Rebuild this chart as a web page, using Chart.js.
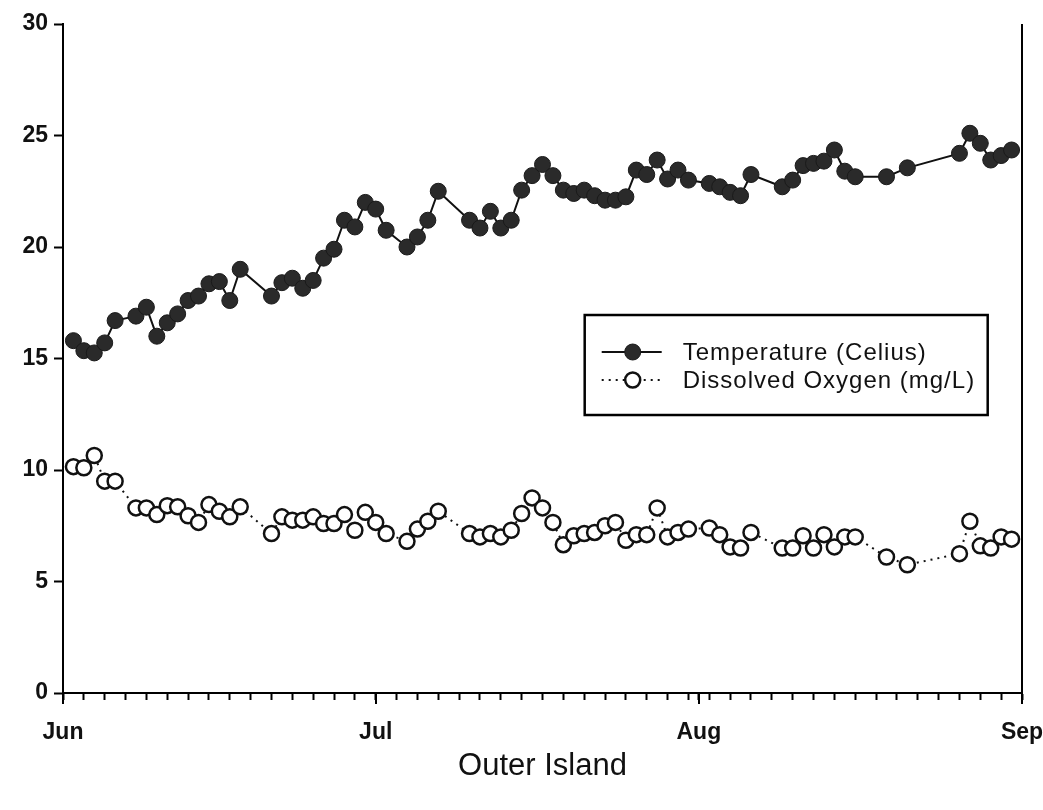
<!DOCTYPE html>
<html><head><meta charset="utf-8">
<script src="https://cdn.jsdelivr.net/npm/chart.js@4/dist/chart.umd.min.js"></script>
<style>html,body{margin:0;padding:0;background:#fff;}#wrap{width:1043px;height:810px;position:relative;}</style>
</head><body><div id="wrap"><canvas id="c" width="1043" height="810"></canvas></div>
<script>
// ---- data (day 0 = Jun 1) ----
const monthTickDays = [0, 30, 61, 92];
const monthLabels = ['Jun', 'Jul', 'Aug', 'Sep'];
const yTickValues = [0, 5, 10, 15, 20, 25, 30];
const seriesNames = ['Temperature (Celius)', 'Dissolved Oxygen (mg/L)'];
const axisTitle = 'Outer Island';
const sampleDays = [1,2,3,4,5,7,8,9,10,11,12,13,14,15,16,17,20,21,22,23,24,25,26,27,28,29,30,31,33,34,35,36,39,40,41,42,43,44,45,46,47,48,49,50,51,52,53,54,55,56,57,58,59,60,62,63,64,65,66,69,70,71,72,73,74,75,76,79,81,86,87,88,89,90,91];
const temperature = [15.8,15.35,15.25,15.7,16.7, 16.9,17.3,16.0,16.6,17.0,17.6,17.8,18.35,18.45,17.6,19.0, 17.8,18.4,18.6,18.15,18.5,19.5,19.9,21.2,20.9,22.0,21.7,20.75, 20.0,20.45,21.2,22.5, 21.2,20.85,21.6,20.85,21.2,22.55,23.2,23.7,23.2,22.55,22.4,22.55,22.3,22.1,22.1,22.25,23.45,23.25,23.9,23.05,23.45,23.0, 22.85,22.7,22.45,22.3,23.25, 22.7,23.0,23.65,23.75,23.85,24.35,23.4,23.15, 23.15,23.55, 24.2,25.1,24.65,23.9,24.1,24.35];
const dissolvedOxygen = [10.15,10.1,10.65,9.5,9.5, 8.3,8.3,8.0,8.4,8.35,7.95,7.65,8.45,8.15,7.9,8.35, 7.15,7.9,7.75,7.75,7.9,7.6,7.6,8.0,7.3,8.1,7.65,7.15, 6.8,7.35,7.7,8.15, 7.15,7.0,7.15,7.0,7.3,8.05,8.75,8.3,7.65,6.65,7.05,7.15,7.2,7.5,7.65,6.85,7.1,7.1,8.3,7.0,7.2,7.35, 7.4,7.1,6.55,6.5,7.2, 6.5,6.5,7.05,6.5,7.1,6.55,7.0,7.0, 6.1,5.75, 6.25,7.7,6.6,6.5,7.0,6.9];

const FONT = '"Liberation Sans", Arial, sans-serif';
const pts = (vals) => sampleDays.map((d, i) => ({x: d, y: vals[i]}));

const minorTickDays = [];
for (let d = 0; d <= 92; d += 2) minorTickDays.push(d);

const frame = {
  id: 'frame',
  afterDraw(chart) {
    const ctx = chart.ctx, a = chart.chartArea, xs = chart.scales.x;
    ctx.save();
    ctx.strokeStyle = '#000'; ctx.lineWidth = 2;
    // right border
    ctx.beginPath(); ctx.moveTo(a.right, a.top); ctx.lineTo(a.right, a.bottom + 1); ctx.stroke();
    // longer major ticks at month starts
    monthTickDays.forEach(d => {
      const px = Math.round(xs.getPixelForValue(d));
      ctx.beginPath(); ctx.moveTo(px, a.bottom); ctx.lineTo(px, a.bottom + 11); ctx.stroke();
    });
    // legend box
    const lx = a.left + 0.544 * (a.right - a.left), ly = a.top + 0.435 * (a.bottom - a.top);
    const lw = 403, lh = 100;
    ctx.fillStyle = '#fff'; ctx.fillRect(lx, ly, lw, lh);
    ctx.lineWidth = 2.5; ctx.strokeRect(lx, ly, lw, lh);
    const ds = chart.data.datasets;
    const rows = [ly + 37, ly + 65];
    rows.forEach((ry, i) => {
      const d = ds[i];
      ctx.save();
      ctx.strokeStyle = d.borderColor; ctx.lineWidth = d.borderWidth;
      ctx.setLineDash(d.borderDash || []);
      ctx.beginPath(); ctx.moveTo(lx + 17, ry); ctx.lineTo(lx + 77, ry); ctx.stroke();
      ctx.setLineDash([]);
      ctx.beginPath(); ctx.arc(lx + 48, ry, d.pointRadius, 0, Math.PI * 2);
      ctx.fillStyle = d.pointBackgroundColor; ctx.fill();
      ctx.lineWidth = d.pointBorderWidth; ctx.strokeStyle = d.pointBorderColor; ctx.stroke();
      ctx.restore();
      ctx.save();
      ctx.fillStyle = '#111'; ctx.font = '24px ' + FONT; ctx.textBaseline = 'middle';
      ctx.letterSpacing = '1px';
      ctx.fillText(d.label, lx + 98, ry + 1);
      ctx.restore();
    });
    ctx.restore();
  }
};

new Chart(document.getElementById('c'), {
  type: 'line',
  data: {
    datasets: [
      { label: seriesNames[0], data: pts(temperature), borderColor: '#111', borderWidth: 2,
        pointRadius: 8, pointBackgroundColor: '#2a2a2a', pointBorderColor: '#1a1a1a', pointBorderWidth: 1,
        tension: 0, clip: false },
      { label: seriesNames[1], data: pts(dissolvedOxygen), borderColor: '#111', borderWidth: 2, borderDash: [2, 5],
        pointRadius: 7.5, pointBackgroundColor: '#fff', pointBorderColor: '#111', pointBorderWidth: 2.5,
        tension: 0, clip: false }
    ]
  },
  options: {
    responsive: false, animation: false, devicePixelRatio: 1,
    layout: { padding: { top: 24, right: 21, left: 0, bottom: 22 } },
    plugins: { legend: { display: false }, tooltip: { enabled: false } },
    scales: {
      x: {
        type: 'linear', min: 0, max: 92,
        afterBuildTicks: s => { s.ticks = minorTickDays.concat([61]).sort((a, b) => a - b).map(v => ({ value: v })); },
        afterFit: s => { s.height = 95; s.paddingLeft = 0; s.paddingRight = 0; },
        ticks: { autoSkip: false, maxRotation: 0, padding: 19, color: '#111',
                 font: { family: FONT, size: 23, weight: 'bold' },
                 callback: v => { const i = monthTickDays.indexOf(v); return i >= 0 ? monthLabels[i] : ''; } },
        grid: { drawOnChartArea: false, drawTicks: true, tickLength: 7, tickColor: '#000', tickWidth: 2 },
        border: { color: '#000', width: 2 },
        title: { display: true, text: axisTitle, color: '#111', font: { family: FONT, size: 31 }, padding: { top: 10, bottom: 3 } }
      },
      y: {
        min: 0, max: 30,
        afterBuildTicks: s => { s.ticks = yTickValues.map(v => ({ value: v })); },
        afterFit: s => { s.width = 63; },
        ticks: { padding: 6, color: '#111', font: { family: FONT, size: 23, weight: 'bold' } },
        grid: { drawOnChartArea: false, drawTicks: true, tickLength: 9, tickColor: '#000', tickWidth: 2 },
        border: { color: '#000', width: 2 }
      }
    }
  },
  plugins: [frame]
});
</script></body></html>
